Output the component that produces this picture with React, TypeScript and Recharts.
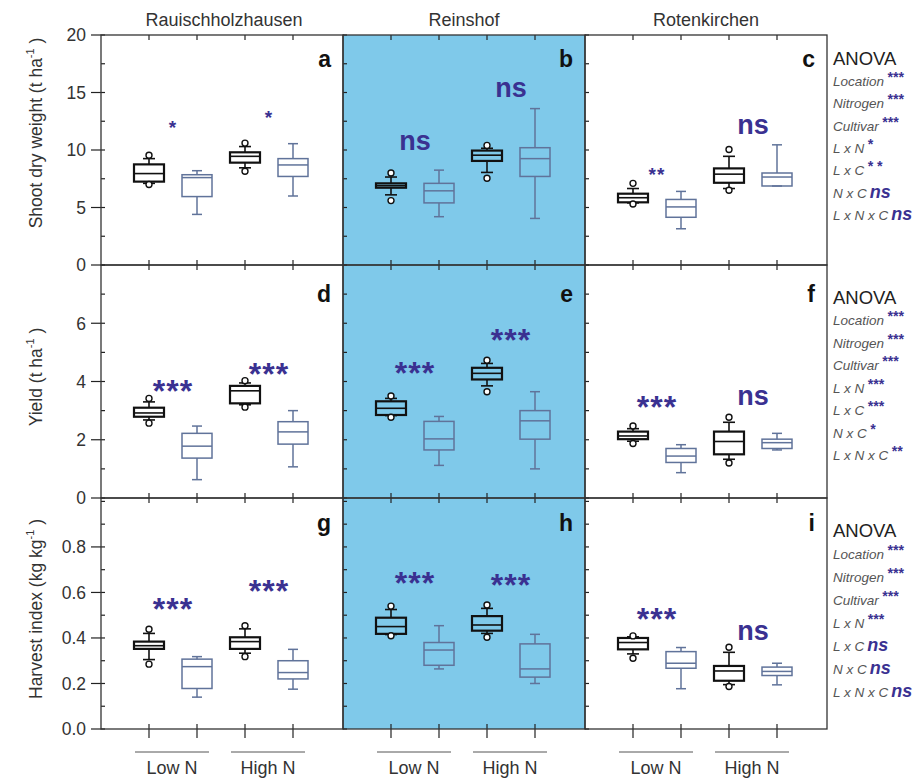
import React from 'react';
import { ComposedChart, Bar, Scatter, XAxis, YAxis } from 'recharts';

// one box = [low circle, whisker low, q1, median, q3, whisker high, high circle]
type Box = [number | null, number, number, number, number, number, number | null];

const categories = ['Low N cv1', 'Low N cv2', 'High N cv1', 'High N cv2'];
const groups = ['Low N', 'High N'];
const locations = ['Rauischholzhausen', 'Reinshof', 'Rotenkirchen'];
const letters = [['a', 'b', 'c'], ['d', 'e', 'f'], ['g', 'h', 'i']];
const sigX = [1.5, 3.5];

const shootTicks = [0, 2.5, 5, 7.5, 10, 12.5, 15, 17.5, 20];
const shootLabels = [0, 5, 10, 15, 20];
const yieldTicks = [0, 1, 2, 3, 4, 5, 6, 7, 8];
const yieldLabels = [0, 2, 4, 6];
const hiTicks = [0, 0.1, 0.2, 0.3, 0.4, 0.5, 0.6, 0.7, 0.8, 0.9, 1.0];
const hiLabels = [0, 0.2, 0.4, 0.6, 0.8];

const shootRau: Box[] = [
  [7.0, 7.1, 7.25, 7.95, 8.75, 9.25, 9.55],
  [null, 4.4, 5.95, 7.6, 7.85, 8.2, null],
  [8.15, 8.45, 8.9, 9.45, 9.8, 10.3, 10.6],
  [null, 6.0, 7.7, 8.7, 9.25, 10.55, null],
];
const shootRei: Box[] = [
  [5.6, 6.1, 6.72, 6.9, 7.1, 7.65, 8.0],
  [null, 4.2, 5.4, 6.45, 7.1, 8.25, null],
  [7.55, 8.05, 9.05, 9.55, 9.95, 10.15, 10.4],
  [null, 4.05, 7.7, 9.25, 10.2, 13.6, null],
];
const shootRot: Box[] = [
  [5.3, 5.4, 5.45, 5.85, 6.2, 6.65, 7.1],
  [null, 3.15, 4.15, 5.05, 5.7, 6.4, null],
  [6.5, 6.65, 7.15, 7.9, 8.4, 9.45, 10.05],
  [null, 6.87, 6.87, 7.65, 8.0, 10.45, null],
];
const shootSig = [['*', '*'], ['ns', 'ns'], ['**', 'ns']];
const shootSigY = [[12.35, 13.2], [10.6, 15.2], [8.26, 12.0]];

const yieldRau: Box[] = [
  [2.57, 2.68, 2.79, 2.92, 3.1, 3.3, 3.42],
  [null, 0.63, 1.37, 1.78, 2.22, 2.47, null],
  [3.12, 3.2, 3.25, 3.68, 3.85, 3.95, 4.03],
  [null, 1.07, 1.85, 2.27, 2.62, 3.0, null],
];
const yieldRei: Box[] = [
  [2.77, 2.83, 2.85, 3.08, 3.32, 3.42, 3.5],
  [null, 1.12, 1.65, 2.03, 2.63, 2.8, null],
  [3.65, 3.85, 4.07, 4.28, 4.47, 4.62, 4.73],
  [null, 1.0, 2.02, 2.65, 3.0, 3.65, null],
];
const yieldRot: Box[] = [
  [1.87, 1.95, 2.02, 2.13, 2.28, 2.38, 2.47],
  [null, 0.87, 1.22, 1.44, 1.7, 1.83, null],
  [1.2, 1.33, 1.5, 1.94, 2.28, 2.6, 2.77],
  [null, 1.65, 1.7, 1.9, 2.02, 2.22, null],
];
const yieldSig = [['***', '***'], ['***', '***'], ['***', 'ns']];
const yieldSigY = [[3.93, 4.52], [4.55, 5.69], [3.38, 3.45]];

const hiRau: Box[] = [
  [0.285, 0.305, 0.352, 0.366, 0.384, 0.42, 0.438],
  [null, 0.14, 0.178, 0.274, 0.307, 0.318, null],
  [0.318, 0.333, 0.352, 0.384, 0.403, 0.44, 0.454],
  [null, 0.175, 0.22, 0.248, 0.3, 0.35, null],
];
const hiRei: Box[] = [
  [0.41, 0.415, 0.418, 0.45, 0.489, 0.525, 0.54],
  [null, 0.264, 0.28, 0.347, 0.38, 0.454, null],
  [0.403, 0.42, 0.432, 0.457, 0.496, 0.53, 0.545],
  [null, 0.2, 0.228, 0.264, 0.374, 0.416, null],
];
const hiRot: Box[] = [
  [0.311, 0.33, 0.35, 0.38, 0.4, 0.405, 0.409],
  [null, 0.177, 0.267, 0.289, 0.34, 0.358, null],
  [0.187, 0.195, 0.212, 0.255, 0.277, 0.337, 0.359],
  [null, 0.194, 0.235, 0.253, 0.272, 0.289, null],
];
const hiSig = [['***', '***'], ['***', '***'], ['***', 'ns']];
const hiSigY = [[0.56, 0.64], [0.674, 0.665], [0.515, 0.423]];

const anovaTerms = ['Location', 'Nitrogen', 'Cultivar', 'L x N', 'L x C', 'N x C', 'L x N x C'];
const anovaShoot = ['***', '***', '***', '*', '* *', 'ns', 'ns'];
const anovaYield = ['***', '***', '***', '***', '***', '*', '**'];
const anovaHI = ['***', '***', '***', '***', 'ns', 'ns', 'ns'];

const FONT = '"Liberation Sans", Arial, sans-serif';
const INK = '#3a3191';
const GREY = '#60739a';
const BLUE = '#7fc9ea';
const TICK = '#222';

const COLS = [101, 343, 585];
const W = 242;
const L = 60, R = 10, T = 10, B = 20;

const rows = [
  { top: 35, h: 230, domain: [0, 20], ticks: shootTicks, labels: shootLabels, fmt: (v: number) => String(v),
    boxes: [shootRau, shootRei, shootRot], sig: shootSig, sigY: shootSigY, starFs: 19,
    title: 'Shoot dry weight (t ha', sup: '-1', labelY: 133, letterDy: 32,
    anova: anovaShoot, anovaTop: 58, anovaStart: 82, anovaStep: 22.3 },
  { top: 265, h: 233, domain: [0, 8], ticks: yieldTicks, labels: yieldLabels, fmt: (v: number) => String(v),
    boxes: [yieldRau, yieldRei, yieldRot], sig: yieldSig, sigY: yieldSigY, starFs: 32,
    title: 'Yield (t ha', sup: '-1', labelY: 377, letterDy: 37,
    anova: anovaYield, anovaTop: 297, anovaStart: 321, anovaStep: 22.5 },
  { top: 498, h: 231, domain: [0, 1.015], ticks: hiTicks, labels: hiLabels, fmt: (v: number) => v.toFixed(1),
    boxes: [hiRau, hiRei, hiRot], sig: hiSig, sigY: hiSigY, starFs: 32,
    title: 'Harvest index (kg kg', sup: '-1', labelY: 609, letterDy: 33,
    anova: anovaHI, anovaTop: 530, anovaStart: 555, anovaStep: 23 },
];

const BoxShape = (props: any) => {
  const { x, y, width, height } = props;
  const p = props.payload;
  if (!p) return null;
  const [oLo, wLo, q1, med, q3, wHi, oHi] = p.box as Box;
  const [lo, hi] = p.range;
  const pix = (v: number) => y + (height * (hi - v)) / (hi - lo);
  const cx = x + width / 2;
  const black = p.cv === 0;
  const stroke = black ? '#111' : GREY;
  const sw = black ? 1.6 : 1.5;
  const cap = black ? 6 : 5;
  return (
    <g>
      <line x1={cx} x2={cx} y1={pix(wHi)} y2={pix(q3)} stroke={stroke} strokeWidth={sw} />
      <line x1={cx} x2={cx} y1={pix(q1)} y2={pix(wLo)} stroke={stroke} strokeWidth={sw} />
      <line x1={cx - cap} x2={cx + cap} y1={pix(wHi)} y2={pix(wHi)} stroke={stroke} strokeWidth={sw} />
      <line x1={cx - cap} x2={cx + cap} y1={pix(wLo)} y2={pix(wLo)} stroke={stroke} strokeWidth={sw} />
      <rect x={x} y={pix(q3)} width={width} height={Math.max(1, pix(q1) - pix(q3))} fill="none"
        stroke={stroke} strokeWidth={black ? 2.2 : 1.5} />
      <line x1={x} x2={x + width} y1={pix(med)} y2={pix(med)} stroke={stroke} strokeWidth={sw} />
      {oHi != null && <circle cx={cx} cy={pix(oHi)} r={3} fill="#fff" stroke={stroke} strokeWidth={1.4} />}
      {oLo != null && <circle cx={cx} cy={pix(oLo)} r={3} fill="#fff" stroke={stroke} strokeWidth={1.4} />}
    </g>
  );
};

const NoteShape = (props: any) => {
  const { cx, cy, payload } = props;
  if (cx == null || cy == null) return null;
  const ns = payload.t === 'ns';
  const fs = ns ? 27 : payload.fs;
  return (
    <text x={cx} y={cy + (ns ? 0.26 : 0.57) * fs} textAnchor="middle" fontSize={fs} fontWeight="bold"
      fill={INK} fontFamily={FONT} letterSpacing={ns ? 0 : 1}>
      {payload.t}
    </text>
  );
};

const Panel = ({ ri, ci }: { ri: number; ci: number }) => {
  const row = rows[ri];
  const H = row.h;
  const boxes = row.boxes[ci];
  const data = categories.map((cat, i) => {
    const b = boxes[i];
    return { cat, box: b, cv: i % 2, range: [b[0] ?? b[1], b[6] ?? b[5]] };
  });
  const notes = row.sig[ci].map((t, i) => ({ x: sigX[i], y: row.sigY[ci][i], t, fs: row.starFs }));
  return (
    <div style={{ position: 'absolute', left: COLS[ci] - L, top: row.top - T }}>
      <ComposedChart width={L + W + R} height={T + H + B} data={data}
        margin={{ top: T, right: R, left: 0, bottom: 0 }}>
        <XAxis xAxisId="c" dataKey="cat" type="category" height={B} padding={{ left: 24, right: 26 }}
          axisLine={false} tickLine={false} interval={0}
          tick={(p: any) => (
            <g>
              <line x1={p.x} x2={p.x} y1={T + H} y2={T + H - 5} stroke={TICK} strokeWidth={1.2} />
              <line x1={p.x} x2={p.x} y1={T} y2={T + 5} stroke={TICK} strokeWidth={1.2} />
              {ri === 2 && <line x1={p.x} x2={p.x} y1={T + H} y2={T + H + 9} stroke={TICK} strokeWidth={1.2} />}
            </g>
          )} />
        <XAxis xAxisId="n" dataKey="x" type="number" domain={[0.5, 4.5]} padding={{ left: 24, right: 26 }}
          allowDataOverflow hide />
        <YAxis yAxisId="y" type="number" domain={row.domain} ticks={row.ticks} width={L} interval={0}
          allowDataOverflow axisLine={false} tickLine={false}
          tick={(p: any) => {
            const v = p.payload.value;
            const major = row.labels.includes(v);
            return (
              <g>
                <line x1={L} x2={L + 4} y1={p.y} y2={p.y} stroke={TICK} strokeWidth={1.2} />
                {ci === 0 && major && <line x1={L - 10} x2={L} y1={p.y} y2={p.y} stroke={TICK} strokeWidth={1.2} />}
                {ci === 0 && major && (
                  <text x={L - 15} y={p.y} dy="0.36em" textAnchor="end" fontSize={17.5} fill="#333" fontFamily={FONT}>
                    {row.fmt(v)}
                  </text>
                )}
              </g>
            );
          }} />
        <Bar xAxisId="c" yAxisId="y" dataKey="range" barSize={30} shape={BoxShape} isAnimationActive={false} />
        <Scatter xAxisId="n" yAxisId="y" data={notes} dataKey="y" shape={NoteShape} isAnimationActive={false} />
      </ComposedChart>
    </div>
  );
};

export default function App() {
  return (
    <div style={{ position: 'absolute', left: 0, top: 0, width: 921, height: 783, background: '#fff', fontFamily: FONT }}>
      <div style={{ position: 'absolute', left: COLS[1], top: rows[0].top, width: W, height: 729 - rows[0].top, background: BLUE }} />
      {rows.map((_, ri) => COLS.map((_, ci) => <Panel key={`${ri}-${ci}`} ri={ri} ci={ci} />))}
      <svg width={921} height={783} style={{ position: 'absolute', left: 0, top: 0, pointerEvents: 'none' }} fontFamily={FONT}>
        {rows.map((row, ri) =>
          COLS.map((x0, ci) => (
            <g key={`f${ri}${ci}`}>
              <rect x={x0} y={row.top} width={W} height={row.h} fill="none" stroke="#333" strokeWidth={1.3} />
              <text x={x0 + W - 12} y={row.top + row.letterDy} textAnchor="end" fontSize={23} fontWeight="bold" fill="#111">
                {letters[ri][ci]}
              </text>
            </g>
          ))
        )}
        {locations.map((loc, ci) => (
          <text key={loc} x={COLS[ci] + W / 2 + (ci === 0 ? 2 : 0)} y={26} textAnchor="middle" fontSize={18} fill="#333">
            {loc}
          </text>
        ))}
        {rows.map((row, ri) => (
          <text key={`yl${ri}`} transform={`translate(42, ${row.labelY}) rotate(-90)`} textAnchor="middle" fontSize={17.5} fill="#333">
            {row.title}
            <tspan dy={-8} fontSize={11}>{row.sup}</tspan>
            <tspan dy={8}> )</tspan>
          </text>
        ))}
        {COLS.map((x0, ci) =>
          groups.map((g, gi) => {
            const cx = x0 + 71 + gi * 96;
            return (
              <g key={`g${ci}${gi}`}>
                <line x1={cx - 37} x2={cx + 37} y1={752} y2={752} stroke="#555" strokeWidth={1} />
                <text x={cx} y={774} textAnchor="middle" fontSize={18} fill="#333">{g}</text>
              </g>
            );
          })
        )}
        {rows.map((row, ri) => (
          <g key={`an${ri}`}>
            <text x={833} y={row.anovaTop + 7} fontSize={18.5} fill="#222">ANOVA</text>
            {anovaTerms.map((term, i) => {
              const s = row.anova[i];
              return (
                <text key={term} x={833} y={row.anovaStart + i * row.anovaStep + 4} fontSize={13.5} fontStyle="italic" fill="#555">
                  {term}
                  {s === 'ns' ? (
                    <tspan dx={3} fontSize={18} fontWeight="bold" fill={INK}>ns</tspan>
                  ) : (
                    <tspan dx={3} dy={-4} fontSize={14} fontWeight="bold" fill={INK}>{s}</tspan>
                  )}
                </text>
              );
            })}
          </g>
        ))}
      </svg>
    </div>
  );
}
